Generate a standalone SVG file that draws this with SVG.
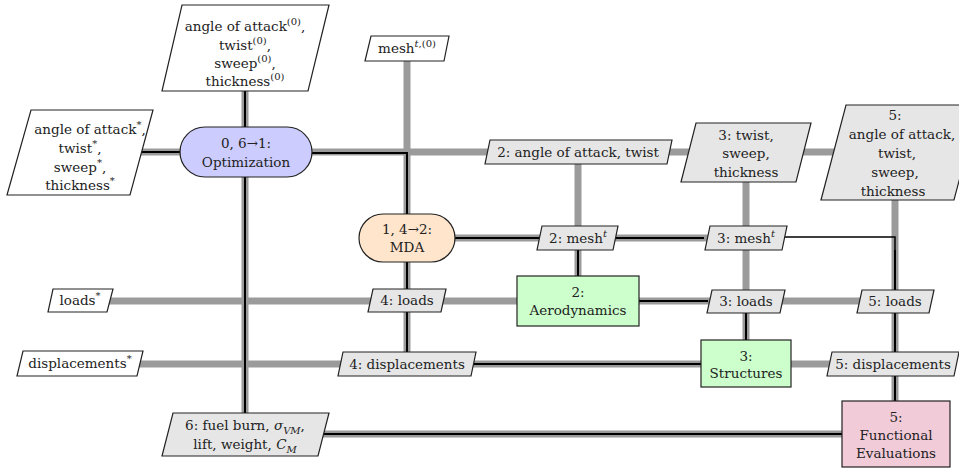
<svg xmlns="http://www.w3.org/2000/svg" width="959" height="470" viewBox="0 0 959 470">
<style>
text{font-family:"DejaVu Serif","Liberation Serif",serif;font-size:13.5px;fill:#222;text-anchor:middle}
.sup{font-size:10px}
.it{font-style:italic}
.data{stroke:#9b9b9b;stroke-width:7;fill:none}
.proc{stroke:#000;stroke-width:2;fill:none}
.thin{stroke:#000;stroke-width:1.5;fill:none}
.in{fill:#fff;stroke:#222;stroke-width:1.2}
.dat{fill:#e6e6e6;stroke:#222;stroke-width:1.2}
.fn{stroke:#222;stroke-width:1.2}
</style>
<rect width="959" height="470" fill="#fff"/>
<g id="connectors">
<path class="data" d="M80 152H895M245 48V434M407 48V364M407 238H746M578 152V301M746 152V363M895 152V434M80 301H895M80 364H893M245 434H896"/>
<path class="proc" d="M140 152H180M245 91V127M245 177V413M312 153H407V214M407 262V352M455 238H704M578 250V276M639 301H708M746 312V340M472 364H701M318 434H842M895 250V401"/>
<path class="thin" d="M782 237H895V252"/>
</g>
<g id="in_top"><polygon class="in" points="182,5 329,5 308,91 162,91"/>
<text x="245" y="31">angle of attack<tspan class="sup" dy="-6">(0)</tspan><tspan dy="6">,</tspan></text>
<text x="245" y="50">twist<tspan class="sup" dy="-6">(0)</tspan><tspan dy="6">,</tspan></text>
<text x="245" y="68">sweep<tspan class="sup" dy="-6">(0)</tspan><tspan dy="6">,</tspan></text>
<text x="245" y="86">thickness<tspan class="sup" dy="-6">(0)</tspan></text></g>
<g id="in_mesh"><polygon class="in" points="371,36 449,36 444,61 365,61"/>
<text x="407" y="53">mesh<tspan class="sup" dy="-6"><tspan class="it">t</tspan>,(0)</tspan></text></g>
<g id="out_opt"><polygon class="in" points="31,110 153,110 130,195 7,195"/>
<text x="90" y="134">angle of attack<tspan class="sup" dy="-6">*</tspan><tspan dy="6">,</tspan></text>
<text x="80" y="153">twist<tspan class="sup" dy="-6">*</tspan><tspan dy="6">,</tspan></text>
<text x="80" y="172">sweep<tspan class="sup" dy="-6">*</tspan><tspan dy="6">,</tspan></text>
<text x="80" y="190">thickness<tspan class="sup" dy="-6">*</tspan></text></g>
<g id="out_loads"><polygon class="in" points="53,289 113,289 107,312 48,312"/>
<text x="80" y="305">loads<tspan class="sup" dy="-6">*</tspan></text></g>
<g id="out_disp"><polygon class="in" points="23,351 143,351 137,376 17,376"/>
<text x="80" y="368">displacements<tspan class="sup" dy="-6">*</tspan></text></g>
<g id="d_aero_in"><polygon class="dat" points="490,140 672,140 667,164 485,164"/>
<text x="578" y="157">2: angle of attack, twist</text></g>
<g id="d_struct_in"><polygon class="dat" points="696,123 811,123 796,182 681,182"/>
<text x="746" y="140">3: twist,</text><text x="746" y="158">sweep,</text><text x="746" y="177">thickness</text></g>
<g id="d_func_in"><polygon class="dat" points="846,105 979,105 954,200 821,200"/>
<text x="895" y="120">5:</text><text x="902" y="139">angle of attack,</text><text x="897" y="158">twist,</text><text x="895" y="177">sweep,</text><text x="893" y="196">thickness</text></g>
<g id="d_mesh2"><polygon class="dat" points="542,226 618,226 613,250 537,250"/>
<text x="578" y="243">2: mesh<tspan class="sup it" dy="-6">t</tspan></text></g>
<g id="d_mesh3"><polygon class="dat" points="710,226 787,226 782,250 705,250"/>
<text x="746" y="243">3: mesh<tspan class="sup it" dy="-6">t</tspan></text></g>
<g id="d_loads4"><polygon class="dat" points="373,289 446,289 441,312 368,312"/>
<text x="407" y="305">4: loads</text></g>
<g id="d_disp4"><polygon class="dat" points="343,352 476,352 471,376 338,376"/>
<text x="407" y="369">4: displacements</text></g>
<g id="d_loads3"><polygon class="dat" points="712,290 785,290 780,313 707,313"/>
<text x="746" y="306">3: loads</text></g>
<g id="d_loads5"><polygon class="dat" points="862,290 934,290 929,313 857,313"/>
<text x="895" y="306">5: loads</text></g>
<g id="d_disp5"><polygon class="dat" points="832,352 959,352 954,376 827,376"/>
<text x="893" y="369">5: displacements</text></g>
<g id="d_fuel"><polygon class="dat" points="173,413 329,413 318,456 162,456"/>
<text x="245" y="430">6: fuel burn, <tspan class="it">σ</tspan><tspan class="sup it" dy="4">VM</tspan><tspan dy="-4">,</tspan></text>
<text x="245" y="449">lift, weight, <tspan class="it">C</tspan><tspan class="sup it" dy="4">M</tspan></text></g>
<g id="opt"><rect class="fn" x="180" y="127" width="132" height="50" rx="25" fill="#ccccff"/>
<text x="246" y="148">0, 6→1:</text><text x="246" y="167">Optimization</text></g>
<g id="mda"><rect class="fn" x="359" y="214" width="96" height="48" rx="24" fill="#ffe5cc"/>
<text x="407" y="234">1, 4→2:</text><text x="407" y="252">MDA</text></g>
<g id="aero"><rect class="fn" x="517" y="276" width="122" height="50" fill="#ccffcc"/>
<text x="578" y="297">2:</text><text x="578" y="315">Aerodynamics</text></g>
<g id="struct"><rect class="fn" x="701" y="340" width="90" height="47" fill="#ccffcc"/>
<text x="746" y="361">3:</text><text x="746" y="378">Structures</text></g>
<g id="func"><rect class="fn" x="842" y="401" width="108" height="66" fill="#f2cbd9"/>
<text x="896" y="422">5:</text><text x="896" y="440">Functional</text><text x="896" y="458">Evaluations</text></g>
</svg>
